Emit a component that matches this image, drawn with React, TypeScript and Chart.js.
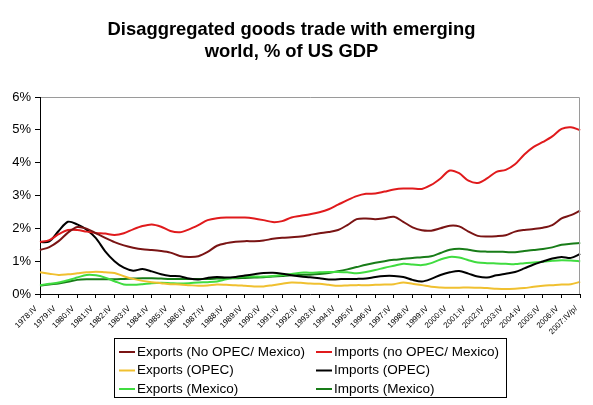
import React, { useEffect, useRef } from 'react';
import { Chart, registerables } from 'chart.js';

Chart.register(...registerables);

const FONT = '"Liberation Sans", Arial, sans-serif';

const yearLabels = [
  '1978:IV', '1979:IV', '1980:IV', '1981:IV', '1982:IV', '1983:IV', '1984:IV', '1985:IV',
  '1986:IV', '1987:IV', '1988:IV', '1989:IV', '1990:IV', '1991:IV', '1992:IV', '1993:IV',
  '1994:IV', '1995:IV', '1996:IV', '1997:IV', '1998:IV', '1999:IV', '2000:IV', '2001:IV',
  '2002:IV', '2003:IV', '2004:IV', '2005:IV', '2006:IV', '2007:IV/p/',
];

// semi-annual categories: each year's Q2 sits between the labelled Q4s
const categories: string[] = [];
yearLabels.forEach((label, i) => {
  if (i > 0) categories.push(`${1978 + i}:II`);
  categories.push(label);
});

const yTicks = [0, 1, 2, 3, 4, 5, 6];

const exportsNoOpecMexico = [
  1.34, 1.43, 1.61, 1.87, 2.04, 1.99, 1.85, 1.71, 1.58, 1.48, 1.41, 1.36, 1.34, 1.31, 1.26,
  1.16, 1.13, 1.15, 1.28, 1.47, 1.55, 1.59, 1.61, 1.61, 1.63, 1.68, 1.71, 1.73, 1.75, 1.8,
  1.85, 1.89, 1.95, 2.1, 2.28, 2.3, 2.28, 2.31, 2.35, 2.2, 2.03, 1.94, 1.93, 2.0, 2.08,
  2.06, 1.9, 1.77, 1.75, 1.76, 1.79, 1.9, 1.95, 1.98, 2.02, 2.1, 2.3, 2.4, 2.54,
];

const importsNoOpecMexico = [
  1.58, 1.64, 1.82, 1.95, 1.95, 1.9, 1.86, 1.84, 1.8, 1.85, 1.97, 2.07, 2.12, 2.05, 1.92,
  1.88, 1.97, 2.1, 2.25, 2.31, 2.33, 2.33, 2.33, 2.3, 2.25, 2.19, 2.22, 2.33, 2.38, 2.43,
  2.49, 2.58, 2.72, 2.86, 2.98, 3.05, 3.06, 3.12, 3.18, 3.21, 3.21, 3.2, 3.32, 3.52, 3.76,
  3.68, 3.45, 3.38, 3.52, 3.72, 3.78, 3.95, 4.25, 4.48, 4.63, 4.8, 5.03, 5.08, 4.99,
];

const exportsOpec = [
  0.66, 0.62, 0.58, 0.6, 0.63, 0.66, 0.68, 0.66, 0.64, 0.54, 0.46, 0.4, 0.36, 0.33, 0.3,
  0.29, 0.27, 0.25, 0.26, 0.29, 0.28, 0.27, 0.25, 0.23, 0.23, 0.27, 0.31, 0.35, 0.34, 0.32,
  0.31, 0.28, 0.25, 0.26, 0.27, 0.27, 0.28, 0.29, 0.3, 0.35, 0.31, 0.27, 0.22, 0.2, 0.19,
  0.19, 0.2, 0.19, 0.18, 0.16, 0.15, 0.16, 0.18, 0.22, 0.25, 0.27, 0.29, 0.3, 0.37,
];

const importsOpec = [
  1.58, 1.6, 1.92, 2.2, 2.12, 1.96, 1.7, 1.3, 1.0, 0.8, 0.71, 0.76, 0.69, 0.6, 0.55,
  0.54, 0.47, 0.44, 0.49, 0.52, 0.5, 0.52, 0.56, 0.6, 0.64, 0.65, 0.62, 0.57, 0.53, 0.51,
  0.48, 0.44, 0.45, 0.46, 0.46, 0.47, 0.52, 0.55, 0.55, 0.52, 0.43, 0.38, 0.46, 0.58, 0.66,
  0.7, 0.62, 0.53, 0.5, 0.57, 0.62, 0.67, 0.78, 0.9, 0.99, 1.08, 1.13, 1.1, 1.22,
];

const exportsMexico = [
  0.27, 0.31, 0.35, 0.42, 0.5, 0.58, 0.57, 0.5, 0.39, 0.29, 0.28, 0.3, 0.33, 0.34, 0.33,
  0.32, 0.33, 0.35, 0.36, 0.38, 0.45, 0.5, 0.53, 0.53, 0.53, 0.55, 0.58, 0.61, 0.65, 0.65,
  0.66, 0.67, 0.67, 0.66, 0.63, 0.67, 0.73, 0.8, 0.86, 0.92, 0.9, 0.88, 0.94, 1.05, 1.13,
  1.11, 1.03, 0.96, 0.94, 0.93, 0.92, 0.91, 0.94, 0.96, 0.98, 1.01, 1.03, 1.02, 1.0,
];

const importsMexico = [
  0.25, 0.29, 0.32, 0.37, 0.43, 0.45, 0.45, 0.45, 0.45, 0.46, 0.47, 0.48, 0.48, 0.47, 0.46,
  0.46, 0.46, 0.46, 0.46, 0.47, 0.48, 0.48, 0.49, 0.5, 0.51, 0.53, 0.55, 0.57, 0.58, 0.59,
  0.61, 0.64, 0.69, 0.75, 0.82, 0.89, 0.95, 1.0, 1.04, 1.07, 1.1, 1.12, 1.15, 1.25, 1.35,
  1.38, 1.35, 1.3, 1.29, 1.29, 1.28, 1.27, 1.31, 1.34, 1.37, 1.42, 1.5, 1.53, 1.55,
];

const seriesNames = [
  'Exports (No OPEC/ Mexico)', 'Imports (no OPEC/ Mexico)',
  'Exports (OPEC)', 'Imports (OPEC)',
  'Exports (Mexico)', 'Imports (Mexico)',
];
const seriesValues = [
  exportsNoOpecMexico, importsNoOpecMexico, exportsOpec, importsOpec, exportsMexico, importsMexico,
];
const seriesColors = ['#7a1414', '#e01a1c', '#f0c030', '#000000', '#40dc40', '#187c18'];

const frameAndLegend = {
  id: 'frameAndLegend',
  afterDraw(chart: any) {
    const ctx = chart.ctx as CanvasRenderingContext2D;
    const a = chart.chartArea;
    ctx.save();
    // grey plot-area frame on top and right
    ctx.strokeStyle = '#9a9a9a';
    ctx.lineWidth = 1;
    ctx.beginPath();
    ctx.moveTo(a.left + 1, Math.round(a.top) + 0.5);
    ctx.lineTo(Math.round(a.right) - 0.5, Math.round(a.top) + 0.5);
    ctx.lineTo(Math.round(a.right) - 0.5, a.bottom);
    ctx.stroke();

    // boxed two-column legend
    ctx.strokeStyle = '#000';
    ctx.lineWidth = 1;
    ctx.strokeRect(114.5, 338.5, 392, 59);
    const cols = [119, 316];
    const rows = [352, 370.5, 389];
    ctx.font = `13.5px ${FONT}`;
    ctx.textBaseline = 'middle';
    ctx.textAlign = 'left';
    chart.data.datasets.forEach((ds: any, i: number) => {
      const cx = cols[i % 2];
      const cy = rows[Math.floor(i / 2)];
      ctx.strokeStyle = ds.borderColor;
      ctx.lineWidth = 2;
      ctx.beginPath();
      ctx.moveTo(cx, cy);
      ctx.lineTo(cx + 16, cy);
      ctx.stroke();
      ctx.fillStyle = '#000';
      ctx.fillText(ds.label, cx + 18, cy);
    });
    ctx.restore();
  },
};

export default function App() {
  const canvasRef = useRef<HTMLCanvasElement | null>(null);

  useEffect(() => {
    if (!canvasRef.current) return;
    const chart = new Chart(canvasRef.current, {
      type: 'line',
      data: {
        labels: categories,
        datasets: seriesNames.map((name, i) => ({
          label: name,
          data: seriesValues[i],
          borderColor: seriesColors[i],
          backgroundColor: seriesColors[i],
          borderWidth: 2,
          pointRadius: 0,
          tension: 0.3,
          fill: false,
        })),
      },
      options: {
        animation: false,
        responsive: false,
        devicePixelRatio: 1,
        layout: { padding: { left: 0, right: 10, top: 0, bottom: 0 } },
        plugins: {
          legend: { display: false },
          tooltip: { enabled: false },
          title: {
            display: true,
            text: ['Disaggregated goods trade with emerging', 'world, % of US GDP'],
            color: '#000',
            font: { family: FONT, size: 18.4, weight: 'bold', lineHeight: 22 / 18.4 },
            padding: { top: 19, bottom: 34 },
          },
        },
        scales: {
          x: {
            type: 'category',
            offset: false,
            grid: {
              display: true,
              drawOnChartArea: false,
              drawTicks: true,
              tickLength: 4,
              color: (c: any) => (c.index % 2 === 0 ? '#000' : 'rgba(0,0,0,0)'),
            },
            border: { display: true, color: '#000', width: 1 },
            ticks: {
              autoSkip: false,
              maxRotation: 45,
              minRotation: 45,
              padding: 6,
              labelOffset: -4,
              color: '#000',
              font: { family: FONT, size: 8 },
              callback: (_v: any, i: number) => (i % 2 === 0 ? categories[i] : ''),
            },
            afterFit: (s: any) => {
              s.height = 111;
            },
          },
          y: {
            min: 0,
            max: 6,
            afterBuildTicks: (s: any) => {
              s.ticks = yTicks.map((v) => ({ value: v }));
            },
            grid: { drawOnChartArea: false, tickLength: 5, color: '#000' },
            border: { display: true, color: '#000', width: 1 },
            ticks: {
              padding: 4,
              color: '#000',
              font: { family: FONT, size: 13 },
              callback: (v: any) => `${v}%`,
            },
            afterFit: (s: any) => {
              s.width = 40;
            },
          },
        },
      },
      plugins: [frameAndLegend],
    });
    return () => chart.destroy();
  }, []);

  return (
    <div style={{ position: 'fixed', left: 0, top: 0, width: 593, height: 405, background: '#fff' }}>
      <canvas ref={canvasRef} width={593} height={405} />
    </div>
  );
}
